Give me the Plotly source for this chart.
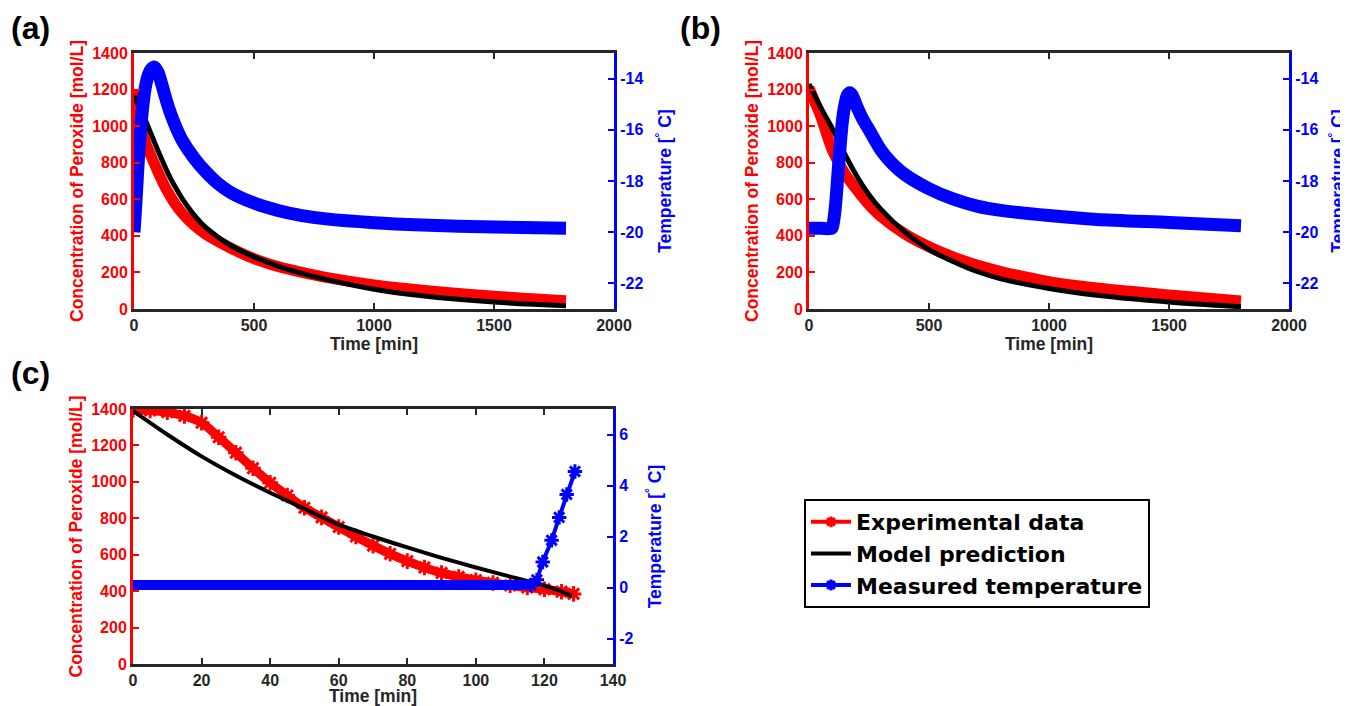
import plotly.graph_objects as go

# ---------------- Data ----------------
# Panel (a)
a_time = [0, 10, 20, 30, 40, 50, 70, 100, 125, 150, 175, 200, 250, 300, 400, 500,
          600, 700, 800, 1000, 1200, 1500, 1800]
a_exp = [1200, 1110, 1040, 985, 945, 905, 840, 750, 680, 620, 568, 525, 458, 408, 335, 275,
         232, 200, 173, 132, 103, 70, 45]
a_model_time = [0, 25, 50, 75, 100, 125, 150, 175, 200, 250, 300, 400, 500, 600, 700, 800,
                1000, 1200, 1500, 1800]
a_model = [1165, 1100, 1025, 945, 865, 790, 720, 660, 605, 515, 445, 350, 285, 235, 195, 162,
           108, 72, 38, 18]
a_temp_time = [0, 5, 10, 20, 30, 40, 50, 60, 70, 85, 100, 115, 130, 150, 175, 200, 250, 300,
               350, 400, 500, 600, 700, 800, 1000, 1200, 1500, 1800]
a_temp = [-20.0, -19.3, -18.5, -16.9, -15.7, -14.8, -14.2, -13.85, -13.65, -13.55, -13.75, -14.2,
          -14.7, -15.3, -15.9, -16.4, -17.1, -17.65, -18.1, -18.43, -18.86, -19.15, -19.35, -19.48,
          -19.63, -19.72, -19.8, -19.85]

# Panel (b)
b_time = [0, 25, 50, 75, 100, 150, 200, 250, 300, 400, 500, 600, 700, 800, 1000, 1200, 1500, 1800]
b_exp = [1210, 1130, 1050, 950, 860, 740, 650, 570, 505, 410, 340, 285, 240, 205, 150, 115, 77, 44]
b_model_time = [0, 50, 100, 150, 200, 250, 300, 400, 500, 600, 700, 800, 1000, 1200, 1500, 1800]
b_model = [1230, 1100, 980, 845, 725, 625, 545, 420, 325, 260, 205, 165, 112, 75, 38, 12]
b_temp_time = [0, 50, 95, 100, 110, 120, 130, 140, 150, 160, 170, 180, 200, 225, 250, 300, 350,
               400, 500, 600, 700, 800, 1000, 1200, 1500, 1800]
b_temp = [-19.85, -19.85, -19.85, -19.7, -19.0, -17.8, -16.6, -15.6, -15.0, -14.65, -14.55, -14.65,
          -15.1, -15.6, -16.0, -16.8, -17.35, -17.75, -18.3, -18.7, -18.98, -19.15, -19.35, -19.5,
          -19.62, -19.75]

# Panel (c)
c_time = [0, 5, 10, 15, 20, 25, 30, 35, 40, 45, 50, 55, 60, 65, 70, 75, 80, 85, 90, 95, 100,
          105, 110, 115, 120, 125, 128.5]
c_exp = [1395, 1392, 1382, 1362, 1325, 1245, 1160, 1075, 995, 925, 858, 805, 752, 700, 650, 605,
         565, 530, 500, 478, 460, 445, 432, 420, 410, 397, 385]
c_model_time = [0, 10, 20, 30, 40, 50, 60, 70, 80, 90, 100, 110, 117, 120, 124, 128]
c_model = [1390, 1260, 1140, 1035, 940, 852, 765, 700, 640, 583, 530, 480, 447, 430, 405, 372]
c_temp_flat_time = [0, 20, 40, 60, 80, 100, 116]
c_temp_flat = [0.1, 0.1, 0.1, 0.1, 0.1, 0.1, 0.1]
c_temp_rise_time = [116, 117.8, 119.5, 122.1, 124.3, 126.5, 128.9]
c_temp_rise = [0.1, 0.3, 1.0, 1.85, 2.75, 3.65, 4.55]

# Ticks
ab_xticks = [0, 500, 1000, 1500, 2000]
c_xticks = [0, 20, 40, 60, 80, 100, 120, 140]
conc_ticks = [0, 200, 400, 600, 800, 1000, 1200, 1400]
ab_temp_ticks = [-22, -20, -18, -16, -14]
ab_temp_labels = ["-22", "-20", "-18", "-16", "-14"]
c_temp_ticks = [-2, 0, 2, 4, 6]
c_temp_labels = ["-2", "0", "2", "4", "6"]

legend_names = ["Experimental data", "Model prediction", "Measured temperature"]

# ---------------- Styling ----------------
W, H = 1340, 698          # page body adds an 8px margin
FONT = "Liberation Sans"
LEGEND_FONT = "DejaVu Sans"
AX = "#262626"
RED = "#ff0000"
BLUE = "#0000ff"
BLACK = "#000000"
TICK = 16
TITLE = 17.5


def dx(a, b):
    return [a / W, b / W]


def dy(top, bottom):
    return [1 - bottom / H, 1 - top / H]


def xaxis(domain, rng, ticks, anchor, standoff=3):
    return dict(domain=domain, range=rng, tickvals=ticks, ticks="inside", ticklen=6, tickwidth=2,
                tickcolor=AX, showline=True, linecolor=AX, linewidth=3, mirror="ticks",
                showgrid=False, zeroline=False, anchor=anchor, automargin=False,
                tickfont=dict(family=FONT, size=TICK, color=AX, weight="bold"),
                title=dict(text="Time [min]", standoff=standoff,
                           font=dict(family=FONT, size=TITLE, color=AX, weight="bold")))


def yleft(domain, anchor):
    return dict(domain=domain, range=[0, 1400], tickvals=conc_ticks, ticks="inside", ticklen=6,
                tickwidth=2, tickcolor=RED, showline=True, linecolor=RED, linewidth=3,
                showgrid=False, zeroline=False, anchor=anchor, side="left", automargin=False,
                tickfont=dict(family=FONT, size=TICK, color=RED, weight="bold"),
                title=dict(text="Concentration of Peroxide [mol/L]", standoff=5,
                           font=dict(family=FONT, size=TITLE, color=RED, weight="bold")))


def yright(overlay, anchor, rng, ticks, labels):
    return dict(overlaying=overlay, anchor=anchor, side="right", range=rng, tickvals=ticks,
                ticktext=labels, ticks="inside", ticklen=6, tickwidth=2, tickcolor=BLUE,
                showline=True, linecolor=BLUE, linewidth=3, showgrid=False, zeroline=False,
                automargin=False,
                tickfont=dict(family=FONT, size=TICK, color=BLUE, weight="bold"),
                title=dict(text="Temperature [<sup>°</sup> C]", standoff=17,
                           font=dict(family=FONT, size=TITLE, color=BLUE, weight="bold")))


fig = go.Figure()

panels = [
    ("x", "y", "y2", a_time, a_exp, a_model_time, a_model, a_temp_time, a_temp),
    ("x2", "y3", "y4", b_time, b_exp, b_model_time, b_model, b_temp_time, b_temp),
]
for xa, ya, ya2, t, e, mt, m, tt, tv in panels:
    fig.add_trace(go.Scatter(x=t, y=e, mode="lines", xaxis=xa, yaxis=ya, showlegend=False,
                             line=dict(color=RED, width=11, shape="spline", smoothing=0.9)))
    fig.add_trace(go.Scatter(x=mt, y=m, mode="lines", xaxis=xa, yaxis=ya, showlegend=False,
                             line=dict(color=BLACK, width=5, shape="spline", smoothing=0.9)))
    fig.add_trace(go.Scatter(x=tt, y=tv, mode="lines", xaxis=xa, yaxis=ya2, showlegend=False,
                             line=dict(color=BLUE, width=13, shape="spline", smoothing=0.7)))

# Panel (c)
fig.add_trace(go.Scatter(x=c_time, y=c_exp, mode="lines+markers", xaxis="x3", yaxis="y5",
                         showlegend=False,
                         line=dict(color=RED, width=9, shape="spline", smoothing=0.8),
                         marker=dict(symbol="asterisk-open", size=13, color=RED,
                                     line=dict(color=RED, width=3))))
fig.add_trace(go.Scatter(x=c_model_time, y=c_model, mode="lines", xaxis="x3", yaxis="y5",
                         showlegend=False,
                         line=dict(color=BLACK, width=4, shape="spline", smoothing=0.8)))
fig.add_trace(go.Scatter(x=c_temp_flat_time, y=c_temp_flat, mode="lines", xaxis="x3", yaxis="y6",
                         showlegend=False, line=dict(color=BLUE, width=10)))
fig.add_trace(go.Scatter(x=c_temp_rise_time, y=c_temp_rise, mode="lines+markers", xaxis="x3",
                         yaxis="y6", showlegend=False, line=dict(color=BLUE, width=4),
                         marker=dict(symbol="asterisk-open", size=12, color=BLUE,
                                     line=dict(color=BLUE, width=3))))

# Legend entries
fig.add_trace(go.Scatter(x=[None], y=[None], mode="lines+markers", name=legend_names[0],
                         xaxis="x3", yaxis="y5", line=dict(color=RED, width=4),
                         marker=dict(symbol="asterisk-open", size=9, line=dict(color=RED, width=3))))
fig.add_trace(go.Scatter(x=[None], y=[None], mode="lines", name=legend_names[1],
                         xaxis="x3", yaxis="y5", line=dict(color=BLACK, width=4)))
fig.add_trace(go.Scatter(x=[None], y=[None], mode="lines+markers", name=legend_names[2],
                         xaxis="x3", yaxis="y5", line=dict(color=BLUE, width=4),
                         marker=dict(symbol="asterisk-open", size=9, line=dict(color=BLUE, width=3))))

fig.update_layout(
    width=W, height=H, autosize=False,
    margin=dict(l=0, r=0, t=0, b=0, autoexpand=False),
    paper_bgcolor="white", plot_bgcolor="white",
    xaxis=xaxis(dx(126, 606), [0, 2000], ab_xticks, "y"),
    yaxis=yleft(dy(45, 301), "x"),
    yaxis2=yright("y", "x", [-23, -13], ab_temp_ticks, ab_temp_labels),
    xaxis2=xaxis(dx(801, 1281), [0, 2000], ab_xticks, "y3"),
    yaxis3=yleft(dy(45, 301), "x2"),
    yaxis4=yright("y3", "x2", [-23, -13], ab_temp_ticks, ab_temp_labels),
    xaxis3=xaxis(dx(125, 605), [0, 140], c_xticks, "y5"),
    yaxis5=yleft(dy(401, 656), "x3"),
    yaxis6=yright("y5", "x3", [-3, 7], c_temp_ticks, c_temp_labels),
    showlegend=True,
    legend=dict(x=796 / W, y=1 - 491 / H, xanchor="left", yanchor="top",
                bordercolor=BLACK, borderwidth=2, bgcolor="white",
                font=dict(family=LEGEND_FONT, size=22, color=BLACK, weight="bold"),
                itemwidth=40, tracegroupgap=0),
)

for label, x, y in [("(a)", 22, 20), ("(b)", 692, 20), ("(c)", 22, 365)]:
    fig.add_annotation(text=label, x=x / W, y=1 - y / H, xref="paper", yref="paper",
                       showarrow=False, xanchor="center", yanchor="middle",
                       font=dict(family=FONT, size=32, color=BLACK, weight="bold"))

fig.write_html("out.html")
